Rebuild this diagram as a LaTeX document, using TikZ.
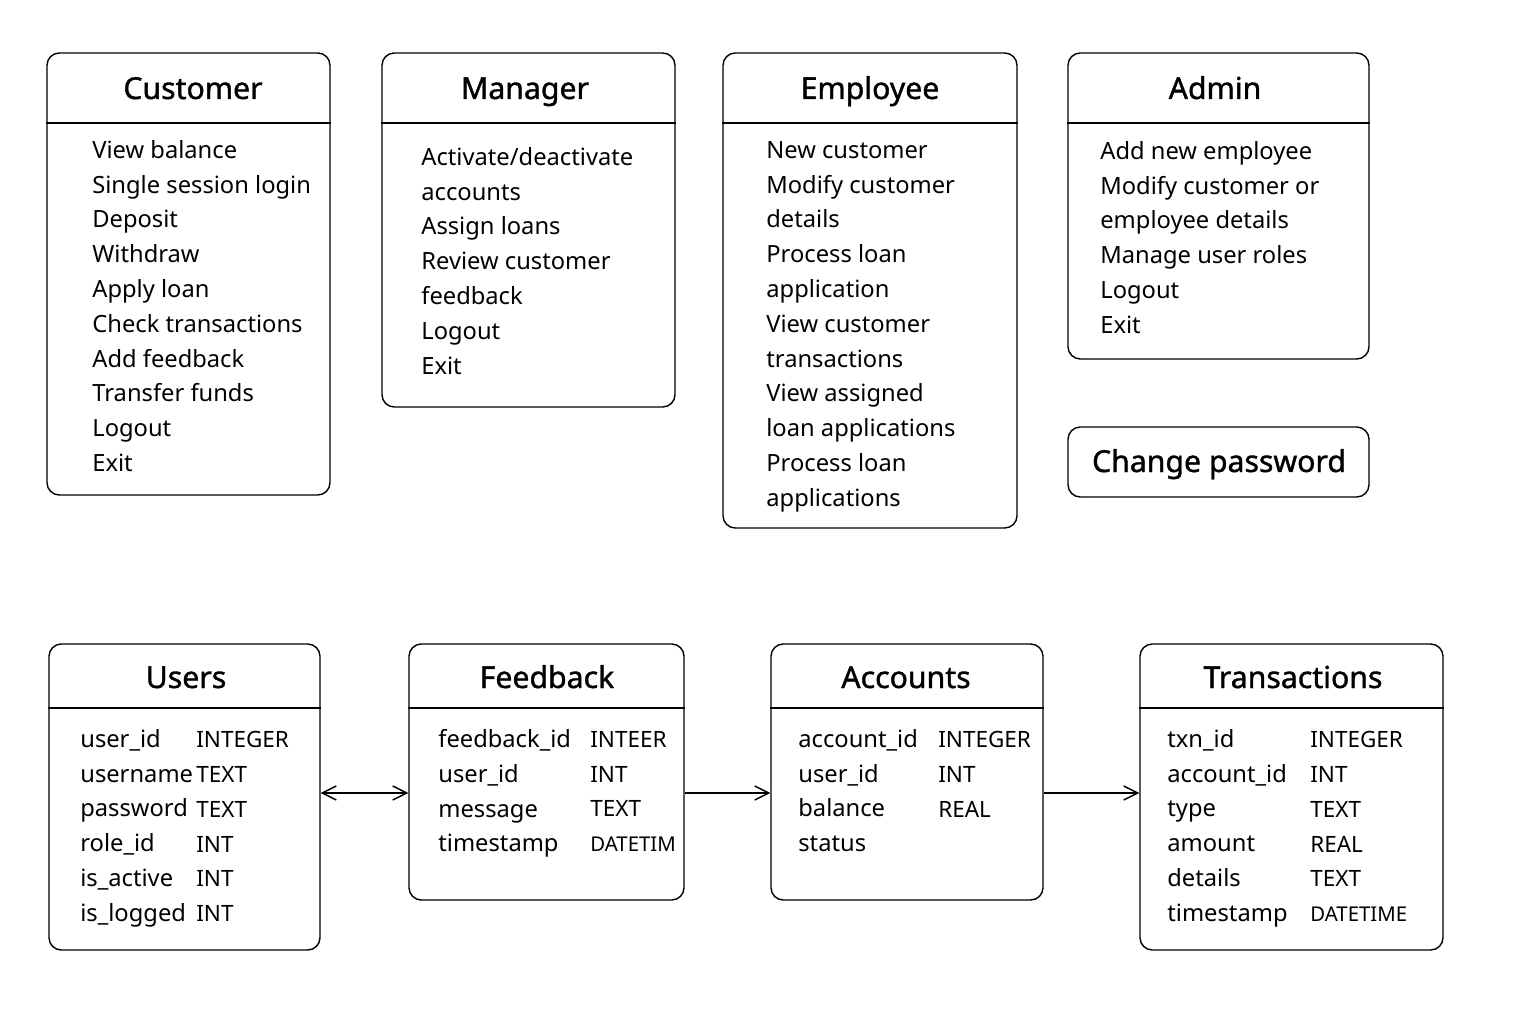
\documentclass[tikz,border=0pt]{standalone}
\usepackage{fontspec}
\setmainfont{Noto Sans}
\newfontfamily\headfont[FakeBold=1.2]{Noto Sans}
\usetikzlibrary{fit,arrows.meta}

\tikzset{
  box/.style={draw, line width=0.8pt, rounded corners=7pt, inner sep=0pt},
  boxtitle/.style={anchor=base, font=\headfont\fontsize{17.2}{20}\selectfont},
  itemlist/.style={align=left, anchor=north west, inner sep=0pt, font=\fontsize{13.5}{19.8}\selectfont},
  typelist/.style={itemlist, font=\fontsize{12.8}{19.8}\selectfont},
  link/.style={line width=0.8pt},
  barb/.tip={Straight Barb[length=8pt, width=8pt]},
}
\newcommand{\smalltype}[1]{{\fontsize{11.6}{19.8}\selectfont #1}}

\begin{document}
\begin{tikzpicture}[x=0.02cm, y=-0.02cm]
\useasboundingbox[fill=white] (0,0) rectangle (1536,1024);

% role menus
\node[box, fit={(47,53) (330,495)}] (customer) {};
\draw[link] (customer.west |- 0,123) -- (customer.east |- 0,123);
\node[boxtitle] (customer title) at (193,99) {Customer};
\node[itemlist] (customer items) at (92,140) {View balance\\Single session login\\Deposit\\Withdraw\\Apply loan\\Check transactions\\Add feedback\\Transfer funds\\Logout\\Exit};

\node[box, fit={(382,53) (675,407)}] (manager) {};
\draw[link] (manager.west |- 0,123) -- (manager.east |- 0,123);
\node[boxtitle] (manager title) at (525,99) {Manager};
\node[itemlist] (manager items) at (421,147) {Activate/deactivate\\accounts\\Assign loans\\Review customer\\feedback\\Logout\\Exit};

\node[box, fit={(723,53) (1017,528)}] (employee) {};
\draw[link] (employee.west |- 0,123) -- (employee.east |- 0,123);
\node[boxtitle] (employee title) at (870,99) {Employee};
\node[itemlist] (employee items) at (766,141) {New customer\\Modify customer\\details\\Process loan\\application\\View customer\\transactions\\View assigned\\loan applications\\Process loan\\applications};

\node[box, fit={(1068,53) (1369,359)}] (admin) {};
\draw[link] (admin.west |- 0,123) -- (admin.east |- 0,123);
\node[boxtitle] (admin title) at (1215,99) {Admin};
\node[itemlist] (admin items) at (1100,141) {Add new employee\\Modify customer or\\employee details\\Manage user roles\\Logout\\Exit};

\node[box, fit={(1068,427) (1369,497)}] (password) {};
\node[boxtitle] (password title) at (1219,472) {Change password};

% tables
\node[box, fit={(49,644) (320,950)}] (users) {};
\draw[link] (users.west |- 0,708) -- (users.east |- 0,708);
\node[boxtitle] (users title) at (186,688) {Users};
\node[itemlist] (users names) at (80,729) {user\_id\\username\\password\\role\_id\\is\_active\\is\_logged};
\node[typelist] (users types) at (196,731) {INTEGER\\TEXT\\TEXT\\INT\\INT\\INT};

\node[box, fit={(409,644) (684,900)}] (feedback) {};
\draw[link] (feedback.west |- 0,708) -- (feedback.east |- 0,708);
\node[boxtitle] (feedback title) at (547,688) {Feedback};
\node[itemlist] (feedback names) at (438,729) {feedback\_id\\user\_id\\message\\timestamp};
\node[typelist] (feedback types) at (590,731) {INTEER\\INT\\TEXT\\\smalltype{DATETIM}};

\node[box, fit={(771,644) (1043,900)}] (accounts) {};
\draw[link] (accounts.west |- 0,708) -- (accounts.east |- 0,708);
\node[boxtitle] (accounts title) at (906,688) {Accounts};
\node[itemlist] (accounts names) at (798,729) {account\_id\\user\_id\\balance\\status};
\node[typelist] (accounts types) at (938,731) {INTEGER\\INT\\REAL};

\node[box, fit={(1140,644) (1443,950)}] (transactions) {};
\draw[link] (transactions.west |- 0,708) -- (transactions.east |- 0,708);
\node[boxtitle] (transactions title) at (1293,688) {Transactions};
\node[itemlist] (transactions names) at (1167,729) {txn\_id\\account\_id\\type\\amount\\details\\timestamp};
\node[typelist] (transactions types) at (1310,731) {INTEGER\\INT\\TEXT\\REAL\\TEXT\\\smalltype{DATETIME}};

% links
\coordinate (linkrow) at (0,793);
\draw[link, barb-barb] (users.east |- linkrow) -- (feedback.west |- linkrow);
\draw[link, -barb] (feedback.east |- linkrow) -- (accounts.west |- linkrow);
\draw[link, -barb] (accounts.east |- linkrow) -- (transactions.west |- linkrow);
\end{tikzpicture}
\end{document}
